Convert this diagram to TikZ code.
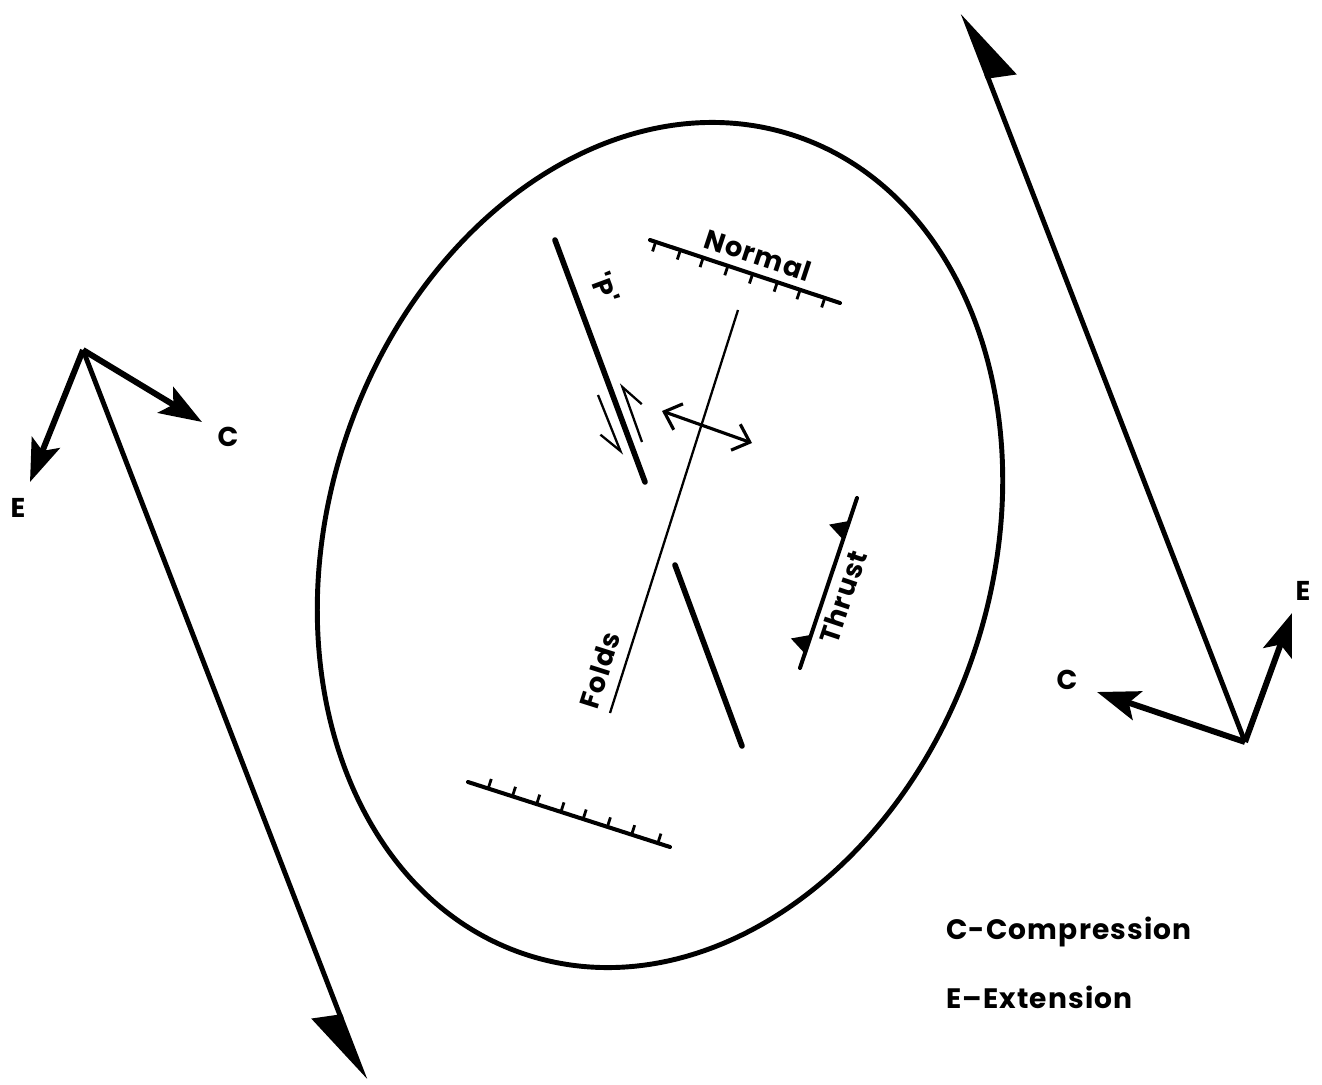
\documentclass[tikz,border=0pt]{standalone}
\usepackage{fontspec}
\newfontfamily\labelfont{Poppins}[LetterSpace=4]
\usetikzlibrary{arrows.meta,calc}

\tikzset{
  outline/.style={line width=2.8pt},
  fault/.style={line width=3.2pt, line cap=round},
  normal fault/.style={line width=2.3pt, line cap=round},
  fold axis/.style={line width=1.3pt},
  stress/.style={line width=3.4pt, -{Stealth[length=0.85cm,width=0.6cm,inset=0.18cm]}},
  trend/.style={line width=2.8pt, -{Stealth[right,length=1.4cm,width=1.1cm,inset=0.12cm]}},
  slip/.style={line width=1.3pt, -{Straight Barb[right,length=0.45cm,width=0.5cm]}},
  lbl/.style={font=\labelfont\bfseries\fontsize{15.5}{18}\selectfont, inner sep=0pt},
  legend/.style={font=\labelfont\bfseries\fontsize{16}{19}\selectfont, inner sep=0pt, anchor=west},
}

\begin{document}
\begin{tikzpicture}[x=0.02cm,y=-0.02cm]
  \useasboundingbox (0,0) rectangle (1322,1085);

  % strain ellipse
  \draw[outline, shift={(660,545)}, rotate=-18] (0,0) ellipse [x radius=6.64cm, y radius=8.62cm];

  % 'P' shear
  \coordinate (pA) at (555,240);
  \coordinate (pB) at (645,482);
  \draw[fault] (pA) -- (pB);
  \node[lbl, rotate=-69.6] (plbl) at (605,288) {'P'};
  \coordinate (sA) at (598,395);
  \coordinate (sB) at (622,455);
  \coordinate (sC) at (642,442);
  \coordinate (sD) at (621,383);
  \draw[slip] (sA) -- (sB);
  \draw[slip] (sC) -- (sD);

  % fold axis with extension across it
  \coordinate (fA) at (738,310);
  \coordinate (fB) at (610,713);
  \draw[fold axis] (fA) -- (fB);
  \node[lbl, rotate=72.4] (flbl) at (600,670) {Folds};
  \coordinate (xA) at (662,411);
  \coordinate (xB) at (752,443);
  \draw[line width=1.8pt, {Straight Barb[length=0.3cm,width=0.55cm]}-{Straight Barb[length=0.3cm,width=0.55cm]}] (xA) -- (xB);

  % tension gash
  \coordinate (gA) at (675,565);
  \coordinate (gB) at (742,746);
  \draw[fault] (gA) -- (gB);

  % normal faults
  \coordinate (nA) at (650,240);
  \coordinate (nB) at (840,303);
  \draw[normal fault] (nA) -- (nB);
  \foreach \t in {0.03,0.16,0.28,0.41,0.54,0.67,0.79,0.92}
    \draw[line width=1.6pt] ($(nA)!\t!(nB)$) -- ($(nA)!\t!(nB)!0.2cm!-90:(nB)$);
  \node[lbl, rotate=-18.3] (nlbl) at (758,255) {Normal};
  \coordinate (mA) at (468,782);
  \coordinate (mB) at (670,847);
  \draw[normal fault] (mA) -- (mB);
  \foreach \t in {0.1,0.22,0.34,0.46,0.57,0.69,0.81,0.94}
    \draw[line width=1.6pt] ($(mA)!\t!(mB)$) -- ($(mA)!\t!(mB)!0.2cm!90:(mB)$);

  % thrust
  \coordinate (tA) at (857,498);
  \coordinate (tB) at (800,668);
  \draw[normal fault] (tA) -- (tB);
  \foreach \t in {0.19,0.86}
    \fill ($(tA)!\t-0.055!(tB)$) -- ($(tA)!\t!(tB)!0.36cm!-90:(tB)$) -- ($(tA)!\t+0.055!(tB)$) -- cycle;
  \node[lbl, rotate=71.5] (tlbl) at (843,597) {Thrust};

  % western couple
  \coordinate (wv) at (83,350);
  \coordinate (wtip) at (365,1080);
  \coordinate (wc) at (202,422);
  \coordinate (we) at (30,482);
  \draw[trend] (wv) -- (wtip);
  \draw[stress] (wv) -- (wc);
  \draw[stress] (wv) -- (we);
  \node[lbl] (wclbl) at (228,437) {C};
  \node[lbl] (welbl) at (18,508) {E};

  % eastern couple
  \coordinate (ev) at (1245,742);
  \coordinate (etip) at (963,13);
  \coordinate (ec) at (1097,692);
  \coordinate (ee) at (1292,613);
  \draw[trend] (ev) -- (etip);
  \draw[stress] (ev) -- (ec);
  \draw[stress] (ev) -- (ee);
  \node[lbl] (eclbl) at (1067,680) {C};
  \node[lbl] (eelbl) at (1303,591) {E};

  % key
  \node[legend] (keyc) at (946,932) {C-Compression};
  \node[legend] (keye) at (946,997) {E–Extension};
\end{tikzpicture}
\end{document}
